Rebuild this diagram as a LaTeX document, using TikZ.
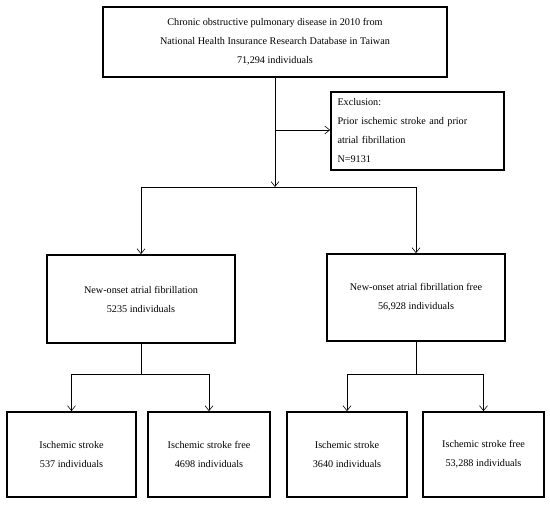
\documentclass[tikz,border=0pt]{standalone}
\usepackage{fontspec}
\setmainfont{Liberation Serif}
\usetikzlibrary{arrows.meta}

\begin{document}
\begin{tikzpicture}[x=1pt,y=-1pt,
		box/.style={draw, line width=1.7pt, inner sep=0, align=center, font=\fontsize{10.2}{19}\selectfont},
		exclbox/.style={box, align=left, text width=160pt},
		link/.style={line width=0.6pt},
		arrow/.style={link, -{Straight Barb[length=5pt,width=8pt]}}]
		\useasboundingbox (0,0) rectangle (550,505);
		% cohort
		\node [box, minimum width=344pt, minimum height=70pt] (copd) at (275,42) {Chronic obstructive pulmonary disease in 2010 from\\National Health Insurance Research Database in Taiwan\\71,294 individuals};
		\node [exclbox, minimum width=173pt, minimum height=78pt] (excl) at (417.5,131) {Exclusion:\\Prior ischemic stroke and prior\\atrial fibrillation\\N=9131};
		% atrial fibrillation groups
		\node [box, minimum width=188pt, minimum height=88pt] (af) at (141,299) {New-onset atrial fibrillation\\5235 individuals};
		\node [box, minimum width=178pt, minimum height=87pt] (afree) at (416,297.5) {New-onset atrial fibrillation free\\56,928 individuals};
		% stroke groups
		\node [box, minimum width=129pt, minimum height=85pt] (afis) at (71.5,454.5) {Ischemic stroke\\537 individuals};
		\node [box, minimum width=122pt, minimum height=85pt] (afisfree) at (209,454.5) {Ischemic stroke free\\4698 individuals};
		\node [box, minimum width=120pt, minimum height=85pt] (freeis) at (347,454.5) {Ischemic stroke\\3640 individuals};
		\node [box, minimum width=121pt, minimum height=85pt] (freeisfree) at (483.5,454.5) {Ischemic stroke free\\53,288 individuals};
		% connectors
		\coordinate (split) at (275,187);
		\coordinate (exclfrom) at (275,130);
		\coordinate (afsplit) at (141,374);
		\coordinate (freesplit) at (416,374);
		\draw [arrow] (copd.south -| split) -- (split);
		\draw [arrow] (exclfrom) -- (excl.west |- exclfrom);
		\draw [link] (af |- split) -- (afree |- split);
		\draw [arrow] (af |- split) -- (af.north);
		\draw [arrow] (afree |- split) -- (afree.north);
		\draw [link] (af.south) -- (afsplit);
		\draw [link] (afis |- afsplit) -- (afisfree |- afsplit);
		\draw [arrow] (afis |- afsplit) -- (afis.north);
		\draw [arrow] (afisfree |- afsplit) -- (afisfree.north);
		\draw [link] (afree.south) -- (freesplit);
		\draw [link] (freeis |- freesplit) -- (freeisfree |- freesplit);
		\draw [arrow] (freeis |- freesplit) -- (freeis.north);
		\draw [arrow] (freeisfree |- freesplit) -- (freeisfree.north);
	\end{tikzpicture}
\end{document}
